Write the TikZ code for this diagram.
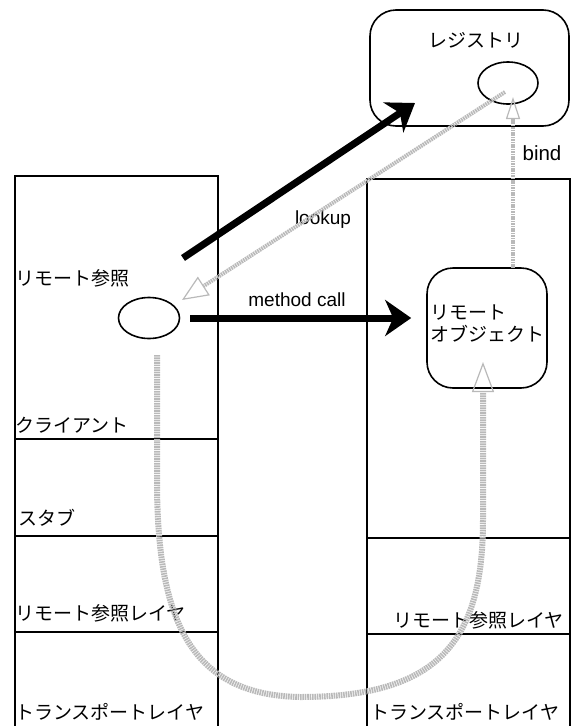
\documentclass[tikz,border=0pt]{standalone}
\usepackage{fontspec}
\setmainfont{Liberation Sans}
\newfontfamily\jp{Noto Sans CJK JP}
\usetikzlibrary{arrows.meta,shapes.geometric}
\begin{document}
\begin{tikzpicture}[x=1pt,y=-1pt,
  box/.style={draw=black, line width=1.6pt, inner sep=0pt},
  cell/.style={box, anchor=north west},
  rbox/.style={box, rounded corners=26pt},
  oval/.style={box, ellipse},
  jptext/.style={inner sep=0pt, font=\jp\fontsize{19}{22}\selectfont},
  lattext/.style={inner sep=0pt, font=\fontsize{19}{22}\selectfont},
  thickarrow/.style={line width=7pt, -{Stealth[length=26pt, width=36pt, inset=8pt]}},
  graylink/.style={draw=gray!55, line width=4pt, dash pattern=on 1.6pt off 0.8pt},
  opentip/.style 2 args={-{Triangle[open, length=#1, width=#2, line width=1.2pt]}},
]
\useasboundingbox (0,0) rectangle (573,726);

% left column
\node[cell, minimum width=203pt, minimum height=263pt] (client) at (14,175) {};
\node[cell, minimum width=203pt, minimum height=97pt] (stub) at (14,438) {};
\node[cell, minimum width=203pt, minimum height=96pt] (lrrl) at (14,535) {};
\node[cell, minimum width=203pt, minimum height=100pt] (ltl) at (14,631) {};

% right column
\node[cell, minimum width=203pt, minimum height=359pt] (server) at (366,178) {};
\node[cell, minimum width=203pt, minimum height=96pt] (rrrl) at (366,537) {};
\node[cell, minimum width=203pt, minimum height=100pt] (rtl) at (366,633) {};

% registry
\node[rbox, minimum width=199pt, minimum height=116pt] (reg) at (469.5,68) {};
\node[jptext] (regl) at (476,40) {レジストリ};
\node[oval, minimum width=60pt, minimum height=42pt] (regell) at (508,83) {};

% remote object
\node[rbox, fill=white, minimum width=120pt, minimum height=120pt] (robj) at (487,328) {};
\node[jptext, anchor=west, align=left] (robjl) at (430,324) {リモート\\オブジェクト};

% remote reference
\node[oval, minimum width=61pt, minimum height=41pt] (lefte) at (149,318) {};

% labels
\node[jptext, anchor=west] (lbl1) at (15,278) {リモート参照};
\node[jptext, anchor=west] (lbl2) at (15,425) {クライアント};
\node[jptext, anchor=west] (lbl3) at (18,518) {スタブ};
\node[jptext, anchor=west] (lbl4) at (15,613) {リモート参照レイヤ};
\node[jptext, anchor=west] (lbl5) at (15,712) {トランスポートレイヤ};
\node[jptext, anchor=east] (lbl6) at (564,620) {リモート参照レイヤ};
\node[jptext, anchor=west] (lbl7) at (370,712) {トランスポートレイヤ};

\node[lattext] (mcl) at (297,300) {method call};
\node[lattext] (lkl) at (323,220) {lookup};
\node[lattext, font=\fontsize{20.5}{24}\selectfont] (bdl) at (542,153) {bind};

% coordinates
\coordinate (lks) at (183,258);
\coordinate (lke) at (415,103);
\coordinate (lrs) at (505,92);
\coordinate (lre) at (182,300);
\coordinate (bds) at (513,268);
\coordinate (bde) at (513,97);
\coordinate (cvs) at (157,355);
\coordinate (cvm) at (300,697);
\coordinate (cve) at (483,362);

% gray links
\draw[graylink, opentip={26pt}{22pt}] (lrs) -- (lre);
\draw[graylink, line width=3.5pt, opentip={22pt}{14pt}] (bds) -- (bde);
\draw[graylink, line width=6pt, opentip={30pt}{22pt}] (cvs) -- (157,480) .. controls (157,620) and (190,695) .. (cvm)
  .. controls (440,697) and (483,640) .. (483,520) -- (cve);

% thick arrows
\draw[thickarrow] (lks) -- (lke);
\draw[thickarrow] ([xshift=10pt]lefte.east) -- ([xshift=-15pt]lefte.east -| robj.west);
\end{tikzpicture}
\end{document}
